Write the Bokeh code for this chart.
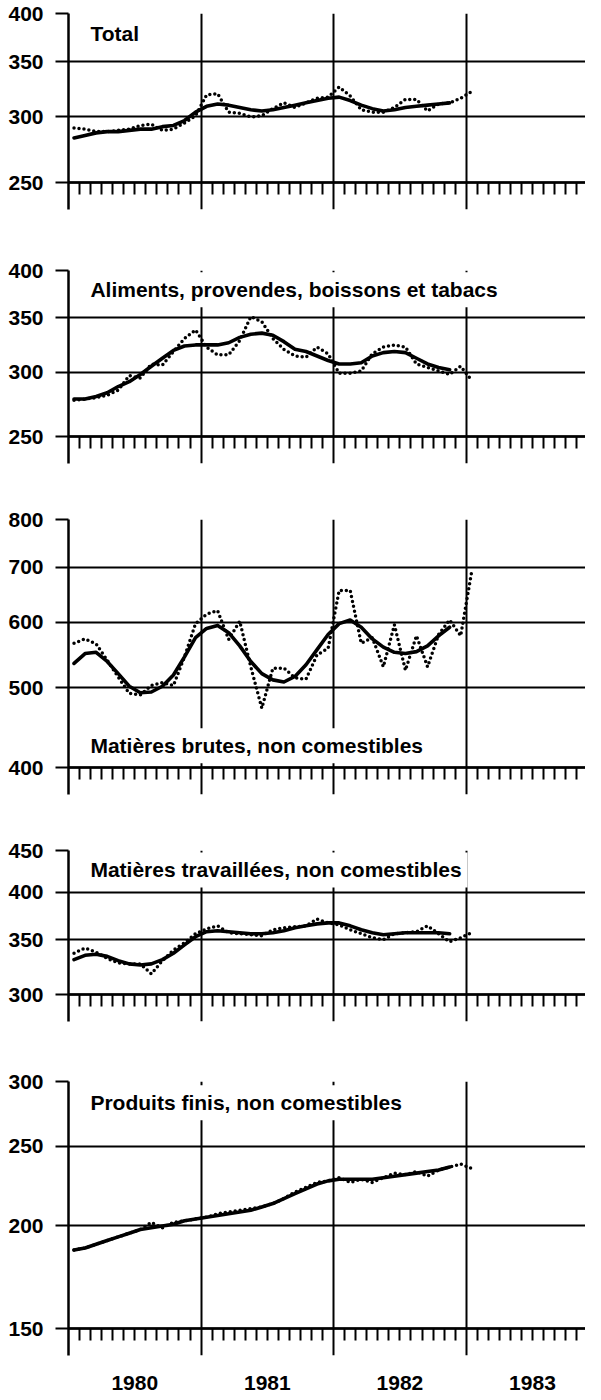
import math
import pandas as pd
from bokeh.plotting import figure
from bokeh.layouts import column
from bokeh.models import FixedTicker, LinearAxis, Label, Range1d, BasicTickFormatter
from bokeh.embed import file_html
from bokeh.resources import INLINE

# ---------------- data ----------------
months = pd.period_range("1980-01", "1983-01", freq="M")
x_month = [m.year + (m.month - 0.5) / 12 for m in months]
x_trend = x_month[:35]

year_labels = ["1980", "1981", "1982", "1983"]
year_starts = [1980, 1981, 1982, 1983]

titles = ["Total",
          "Aliments, provendes, boissons et tabacs",
          "Matières brutes, non comestibles",
          "Matières travaillées, non comestibles",
          "Produits finis, non comestibles"]

total_raw = [291, 290, 288, 288, 289, 290, 293, 294, 289, 290, 295, 301,
             319, 320, 304, 303, 300, 301, 307, 312, 308, 312, 316, 317,
             326, 318, 306, 304, 304, 308, 315, 315, 305, 311, 312, 316, 322]
total_trend = [283, 285, 287, 288, 288, 289, 290, 290, 292, 293, 297, 304,
               309, 311, 310, 308, 306, 305, 306, 308, 310, 312, 314, 316,
               317, 314, 310, 307, 305, 306, 308, 309, 310, 311, 312]

food_raw = [277, 278, 279, 281, 285, 297, 295, 307, 306, 318, 330, 338,
            322, 315, 315, 328, 351, 346, 330, 320, 314, 313, 322, 316,
            299, 299, 301, 316, 322, 324, 322, 307, 304, 301, 298, 305, 293]
food_trend = [278, 278, 280, 283, 288, 292, 298, 305, 312, 319, 323, 324,
              324, 324, 326, 331, 334, 335, 333, 327, 320, 318, 314, 310,
              307, 307, 308, 314, 317, 318, 317, 312, 307, 304, 302]

crude_raw = [566, 573, 565, 540, 515, 492, 490, 503, 507, 503, 545, 598,
             614, 620, 572, 602, 530, 472, 528, 528, 514, 512, 548, 558,
             656, 656, 566, 575, 530, 596, 525, 578, 530, 580, 604, 578, 692]
crude_trend = [535, 550, 552, 538, 520, 502, 493, 494, 502, 518, 545, 575,
               590, 595, 583, 562, 538, 520, 511, 508, 516, 533, 556, 580,
               598, 604, 592, 573, 560, 552, 550, 553, 562, 578, 592]

proc_raw = [337, 342, 338, 332, 328, 327, 327, 318, 330, 340, 347, 356,
            361, 364, 357, 356, 355, 354, 360, 362, 363, 364, 371, 367,
            365, 360, 356, 352, 350, 356, 357, 358, 364, 356, 348, 352, 357]
proc_trend = [331, 335, 336, 334, 330, 327, 326, 327, 331, 337, 345, 353,
              358, 359, 358, 357, 356, 356, 357, 359, 362, 364, 366, 367,
              367, 364, 360, 357, 355, 356, 357, 357, 357, 357, 356]

fin_raw = [187, 188, 190, 192, 194, 196, 198, 202, 199, 202, 203, 204,
           205, 207, 208, 209, 210, 211, 213, 216, 220, 223, 226, 227,
           229, 226, 228, 226, 229, 232, 231, 233, 230, 234, 236, 238, 235]
fin_trend = [187, 188, 190, 192, 194, 196, 198, 199, 200, 201, 203, 204,
             205, 206, 207, 208, 209, 211, 213, 216, 219, 222, 225, 227,
             228, 228, 228, 228, 229, 230, 231, 232, 233, 234, 236]

ticks_total = [250, 300, 350, 400]
ticks_food = [250, 300, 350, 400]
ticks_crude = [400, 500, 600, 700, 800]
ticks_proc = [300, 350, 400, 450]
ticks_fin = [150, 200, 250, 300]

# ---------------- drawing ----------------
FONT = "Liberation Sans"
FS = "21px"
EXT = 27  # px of frame below the lowest gridline (long year ticks)
minor = [y + m / 12 for y in range(1980, 1984) for m in range(1, 12)]


def panel(title, raw, trend, yticks, title_y, frame_h, top, bottom, last=False):
    lo, hi = yticks[0], yticks[-1]
    lo_ext = lo * (lo / hi) ** (EXT / frame_h)
    p = figure(frame_width=517, frame_height=frame_h + EXT,
               x_range=Range1d(1980, 1983.9),
               y_range=Range1d(lo_ext, hi),
               y_axis_type="log", output_backend="svg", toolbar_location=None,
               min_border_left=68, min_border_right=0,
               min_border_top=top, min_border_bottom=bottom)
    p.outline_line_color = None
    p.background_fill_color = "white"
    p.border_fill_color = "white"

    # monthly ticks hanging from the lowest gridline
    xa = p.xaxis[0]
    xa.fixed_location = lo
    xa.ticker = FixedTicker(ticks=[], minor_ticks=minor)
    xa.major_tick_out = 0
    xa.major_tick_in = 0
    xa.minor_tick_out = 12
    xa.minor_tick_in = 0
    xa.minor_tick_line_width = 2
    xa.axis_line_width = 2.5
    xa.major_label_standoff = 0

    ya = p.yaxis[0]
    ya.ticker = FixedTicker(ticks=yticks)
    ya.formatter = BasicTickFormatter()
    ya.major_tick_out = 13
    ya.major_tick_in = 0
    ya.minor_tick_out = 0
    ya.minor_tick_in = 0
    ya.major_tick_line_width = 2
    ya.axis_line_width = 2.5
    ya.major_label_standoff = 12
    ya.major_label_text_font = FONT
    ya.major_label_text_font_style = "bold"
    ya.major_label_text_font_size = FS
    ya.major_label_text_color = "black"

    p.xgrid.ticker = FixedTicker(ticks=year_starts[1:])
    p.xgrid.grid_line_color = "black"
    p.xgrid.grid_line_width = 2
    p.ygrid.grid_line_color = "black"
    p.ygrid.grid_line_width = 2

    p.line(x_month, raw, line_color="black", line_width=3.5,
           line_dash="0 5", line_cap="round")
    p.line(x_trend, trend, line_color="black", line_width=3.6,
           line_join="round", line_cap="round")

    p.add_layout(Label(x=1980.12, y=title_y, text=title,
                       text_font=FONT, text_font_style="bold",
                       text_font_size=FS, text_baseline="middle",
                       text_color="black",
                       background_fill_color="white", padding=6))

    if last:
        yl = LinearAxis(ticker=FixedTicker(ticks=[y + 0.5 for y in year_starts]),
                        major_label_overrides={y + 0.5: lab for y, lab in zip(year_starts, year_labels)},
                        major_tick_out=0, major_tick_in=0,
                        minor_tick_out=0, minor_tick_in=0,
                        axis_line_color=None, major_label_standoff=20,
                        major_label_text_font=FONT,
                        major_label_text_font_style="bold",
                        major_label_text_font_size=FS,
                        major_label_text_color="black")
        p.add_layout(yl, "below")
    return p


p1 = panel(titles[0], total_raw, total_trend, ticks_total, 378, 169, 13, 13)
p2 = panel(titles[1], food_raw, food_trend, ticks_food, 378.7, 166, 48, 13)
p3 = panel(titles[2], crude_raw, crude_trend, ticks_crude, 425, 248, 43, 13)
p4 = panel(titles[3], proc_raw, proc_trend, ticks_proc, 426, 144, 43, 13)
p5 = panel(titles[4], fin_raw, fin_trend, ticks_fin, 282.6, 247, 47, 42, last=True)

layout = column(p1, p2, p3, p4, p5, spacing=0)
open("out.html", "w").write(file_html(layout, INLINE))
